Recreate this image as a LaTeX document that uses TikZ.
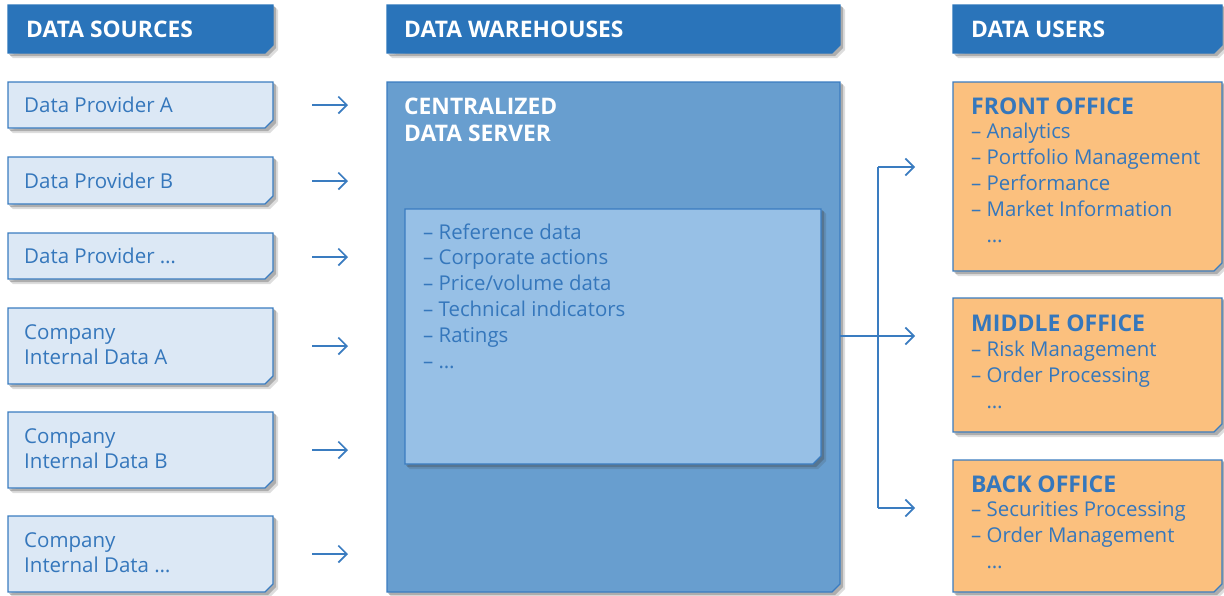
\documentclass[tikz,border=0pt]{standalone}
\usepackage{fontspec}
\setmainfont{Open Sans}
\usetikzlibrary{arrows.meta}
\definecolor{hdr}{HTML}{2A74BA}
\definecolor{edge}{HTML}{3A7CC0}
\definecolor{lightfill}{HTML}{DCE8F5}
\definecolor{bigfill}{HTML}{689ECF}
\definecolor{innerfill}{HTML}{97C0E6}
\definecolor{orangefill}{HTML}{FBC07E}
\definecolor{txtblue}{HTML}{3577BC}
\newcommand\mycut[3]{% node, fill, draw
  \fill[black!75, opacity=0.18] ([shift={(2,2)}]#1.north east) -- ([shift={(5,5)}]#1.north east) -- ([shift={(5,-3)}]#1.south east) -- ([shift={(-3,5)}]#1.south east) -- ([shift={(5,5)}]#1.south west) -- ([shift={(2,2)}]#1.south west) -- cycle;
  \fill[black!75, opacity=0.3] ([shift={(1,1)}]#1.north east) -- ([shift={(3,3)}]#1.north east) -- ([shift={(3,-5)}]#1.south east) -- ([shift={(-5,3)}]#1.south east) -- ([shift={(3,3)}]#1.south west) -- ([shift={(1,1)}]#1.south west) -- cycle;
  \filldraw[fill=#2, draw=#3, line width=1.2pt] (#1.north west) -- (#1.north east) -- ([shift={(0,-8)}]#1.south east) -- ([shift={(-8,0)}]#1.south east) -- (#1.south west) -- cycle;
}
\tikzset{
 boxarea/.style={rectangle, inner sep=0pt, outer sep=0pt},
 hdrtext/.style={anchor=base west, inner sep=0pt, text=white, font=\fontsize{22.8}{24}\selectfont\bfseries},
 srctext/.style={anchor=base west, inner sep=0pt, text=txtblue, align=left, font=\fontsize{20.5}{25}\selectfont},
 listtext/.style={anchor=base west, inner sep=0pt, text=txtblue, align=left, font=\fontsize{20.4}{25.8}\selectfont},
 offtitle/.style={anchor=base west, inner sep=0pt, text=txtblue, font=\fontsize{23}{25}\selectfont\bfseries},
 arr/.style={draw=edge, line width=1.7pt, -{Straight Barb[length=8.5pt,width=17pt,line width=1.7pt]}},
 conn/.style={draw=edge, line width=1.7pt}
}
\begin{document}
\begin{tikzpicture}[x=1pt,y=-1pt]
\useasboundingbox (0,0) rectangle (1224,595);
% headers
\node[boxarea, minimum width=265pt, minimum height=48pt] (h1) at (140.5,29) {};
\node[boxarea, minimum width=453pt, minimum height=48pt] (h2) at (613.5,29) {};
\node[boxarea, minimum width=269pt, minimum height=48pt] (h3) at (1087.5,29) {};
\mycut{h1}{hdr}{hdr}\mycut{h2}{hdr}{hdr}\mycut{h3}{hdr}{hdr}
\node[hdrtext] (h1t) at (26,37) {DATA SOURCES};
\node[hdrtext] (h2t) at (404,37) {DATA WAREHOUSES};
\node[hdrtext] (h3t) at (971,37) {DATA USERS};
% sources
\node[boxarea, minimum width=265pt, minimum height=46pt] (pa) at (140.5,105) {};
\node[boxarea, minimum width=265pt, minimum height=47pt] (pb) at (140.5,180.5) {};
\node[boxarea, minimum width=265pt, minimum height=46pt] (pc) at (140.5,256) {};
\node[boxarea, minimum width=265pt, minimum height=76pt] (ca) at (140.5,346) {};
\node[boxarea, minimum width=265pt, minimum height=76pt] (cb) at (140.5,450) {};
\node[boxarea, minimum width=265pt, minimum height=76pt] (cc) at (140.5,554) {};
\foreach \n in {pa,pb,pc,ca,cb,cc}{\mycut{\n}{lightfill}{edge}}
\node[srctext] (pat) at (24,112) {Data Provider A};
\node[srctext] (pbt) at (24,188) {Data Provider B};
\node[srctext] (pct) at (24,263) {Data Provider \dots};
\node[srctext] (cat) at (24,364) {Company\\Internal Data A};
\node[srctext] (cbt) at (24,468) {Company\\Internal Data B};
\node[srctext] (cct) at (24,572) {Company\\Internal Data \dots};
% warehouse
\node[boxarea, minimum width=453pt, minimum height=510pt] (big) at (613.5,337) {};
\mycut{big}{bigfill}{edge}
\node[boxarea, minimum width=416pt, minimum height=255pt] (inner) at (613,336.5) {};
\mycut{inner}{innerfill}{edge}
\node[hdrtext, align=left, font=\fontsize{22.8}{27}\selectfont\bfseries] (cds) at (404,141) {CENTRALIZED\\DATA SERVER};
\node[listtext] (lst) at (423,368) {– Reference data\\– Corporate actions\\– Price/volume data\\– Technical indicators\\– Ratings\\– \dots};
% users
\node[boxarea, minimum width=269pt, minimum height=189pt] (fo) at (1087.5,176.5) {};
\node[boxarea, minimum width=269pt, minimum height=134pt] (mo) at (1087.5,365) {};
\node[boxarea, minimum width=269pt, minimum height=132pt] (bo) at (1087.5,526) {};
\foreach \n in {fo,mo,bo}{\mycut{\n}{orangefill}{edge}}
\node[offtitle] (fot) at (971,114) {FRONT OFFICE};
\node[listtext] (fol) at (971,242) {– Analytics\\– Portfolio Management\\– Performance\\– Market Information\\\hphantom{– }\dots};
\node[offtitle] (mot) at (971,331) {MIDDLE OFFICE};
\node[listtext] (mol) at (971,408.5) {– Risk Management\\– Order Processing\\\hphantom{– }\dots};
\node[offtitle] (bot) at (971,492) {BACK OFFICE};
\node[listtext] (bol) at (971,568.5) {– Securities Processing\\– Order Management\\\hphantom{– }\dots};
% arrows sources -> warehouse
\foreach \n/\y in {pa/105, pb/181, pc/257, ca/346, cb/450, cc/554}{
  \coordinate (s\n) at (312,\y);
  \coordinate (e\n) at (348,\y);
  \draw[arr] (s\n) -- (e\n);
}
% connector to users
\coordinate (j) at (878,336);
\coordinate (jt) at (878,167);
\coordinate (jb) at (878,508);
\coordinate (tf) at (915,167);
\coordinate (tm) at (915,336);
\coordinate (tb) at (915,508);
\draw[conn] (big.east |- j) -- (j);
\draw[conn] (jt) -- (jb);
\draw[arr] (jt) -- (tf);
\draw[arr] (j) -- (tm);
\draw[arr] (jb) -- (tb);
\end{tikzpicture}
\end{document}
